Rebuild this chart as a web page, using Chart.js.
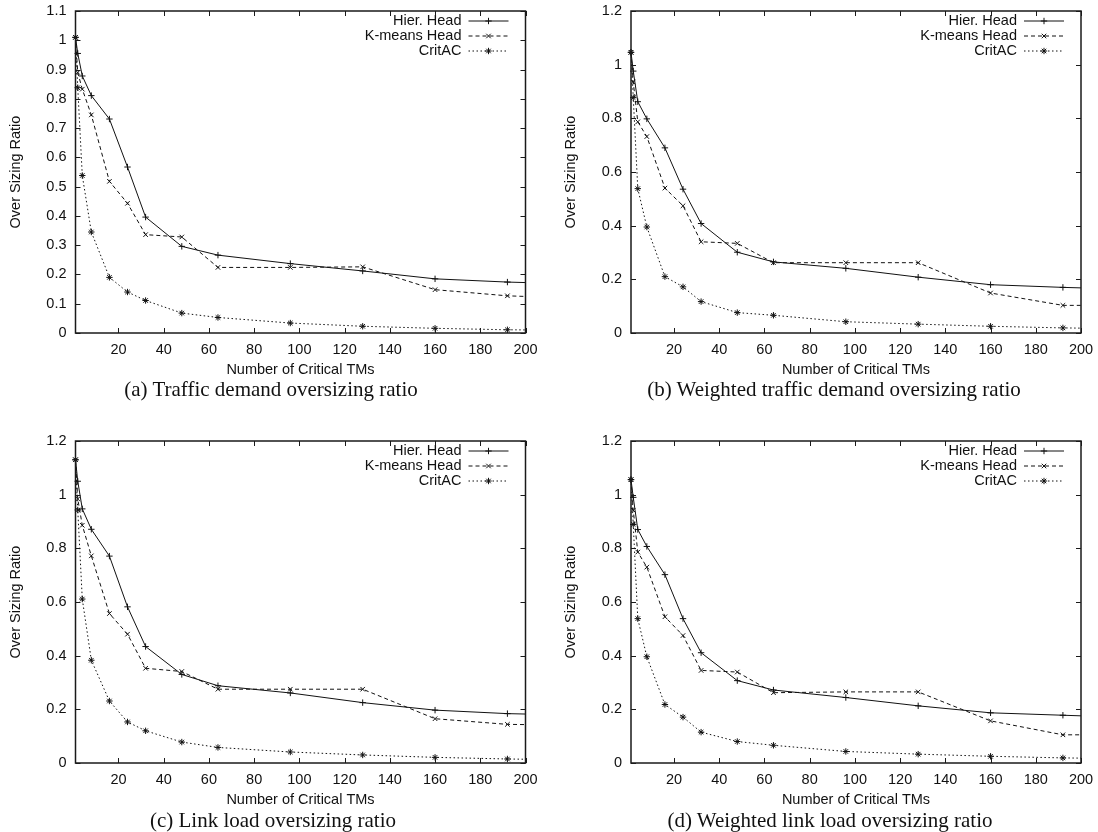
<!DOCTYPE html>
<html>
<head>
<meta charset="utf-8">
<title>Over sizing ratio vs number of critical TMs</title>
<script src="https://cdn.jsdelivr.net/npm/chart.js@4.4.1/dist/chart.umd.min.js"></script>
<style>
  body { margin: 0; background: #fff; width: 1098px; height: 832px; position: relative; overflow: hidden; }
  canvas.panel { position: absolute; }
  .caption {
    position: absolute;
    font-family: "Liberation Serif", "Times New Roman", serif;
    font-size: 21px;
    line-height: 24px;
    color: #111;
    white-space: nowrap;
    transform: translateX(-50%);
  }
</style>
</head>
<body>
<canvas id="chartA" class="panel" width="545" height="380" style="left:0;top:0"></canvas>
<canvas id="chartB" class="panel" width="543" height="380" style="left:555px;top:0"></canvas>
<canvas id="chartC" class="panel" width="545" height="380" style="left:0;top:430px"></canvas>
<canvas id="chartD" class="panel" width="543" height="380" style="left:555px;top:430px"></canvas>

<div class="caption" style="left:271px;top:377px">(a) Traffic demand oversizing ratio</div>
<div class="caption" style="left:834px;top:377px">(b) Weighted traffic demand oversizing ratio</div>
<div class="caption" style="left:273px;top:808px">(c) Link load oversizing ratio</div>
<div class="caption" style="left:830px;top:808px">(d) Weighted link load oversizing ratio</div>

<script>
// number of critical TMs (last run lies past the axis end)
const tmCounts = [1, 2, 4, 8, 16, 24, 32, 48, 64, 96, 128, 160, 192, 256];
const xTickValues = [20, 40, 60, 80, 100, 120, 140, 160, 180, 200];
const yTicksTraffic = [0, 0.1, 0.2, 0.3, 0.4, 0.5, 0.6, 0.7, 0.8, 0.9, 1, 1.1];
const yTicksLoad = [0, 0.2, 0.4, 0.6, 0.8, 1, 1.2];
const seriesNames = ["Hier. Head", "K-means Head", "CritAC"];

// (a) traffic demand
const trafficHier   = [1.01, 0.955, 0.878, 0.811, 0.731, 0.567, 0.396, 0.296, 0.266, 0.237, 0.212, 0.185, 0.174, 0.16];
const trafficKmeans = [1.01, 0.89, 0.833, 0.745, 0.518, 0.443, 0.336, 0.328, 0.224, 0.224, 0.226, 0.148, 0.127, 0.11];
const trafficCritac = [1.01, 0.838, 0.538, 0.345, 0.19, 0.14, 0.111, 0.068, 0.053, 0.034, 0.023, 0.016, 0.011, 0.007];

// (b) weighted traffic demand
const wTrafficHier   = [1.046, 0.976, 0.862, 0.798, 0.69, 0.536, 0.408, 0.301, 0.265, 0.241, 0.208, 0.18, 0.17, 0.155];
const wTrafficKmeans = [1.046, 0.935, 0.787, 0.732, 0.54, 0.474, 0.34, 0.334, 0.262, 0.262, 0.262, 0.149, 0.103, 0.103];
const wTrafficCritac = [1.046, 0.877, 0.538, 0.395, 0.21, 0.172, 0.117, 0.076, 0.066, 0.042, 0.033, 0.025, 0.019, 0.012];

// (c) link load
const linkHier   = [1.13, 1.05, 0.947, 0.871, 0.771, 0.582, 0.434, 0.33, 0.288, 0.261, 0.225, 0.197, 0.184, 0.172];
const linkKmeans = [1.13, 0.984, 0.886, 0.772, 0.557, 0.48, 0.353, 0.341, 0.275, 0.275, 0.275, 0.165, 0.144, 0.137];
const linkCritac = [1.13, 0.943, 0.611, 0.383, 0.231, 0.153, 0.12, 0.078, 0.058, 0.041, 0.03, 0.021, 0.015, 0.007];

// (d) weighted link load
const wLinkHier   = [1.056, 0.99, 0.87, 0.807, 0.702, 0.538, 0.411, 0.307, 0.272, 0.244, 0.213, 0.187, 0.178, 0.16];
const wLinkKmeans = [1.056, 0.942, 0.786, 0.73, 0.545, 0.475, 0.345, 0.339, 0.262, 0.265, 0.265, 0.157, 0.105, 0.105];
const wLinkCritac = [1.056, 0.889, 0.538, 0.396, 0.218, 0.171, 0.115, 0.08, 0.066, 0.043, 0.033, 0.025, 0.019, 0.012];

const INK = "#111111";
const SANS = "'Liberation Sans', Arial, Helvetica, sans-serif";
const FONT_SIZE = 14.5;
const MARK_R = 3.2;

// gnuplot-ish line types: solid +, dashed x, dotted *
const lineStyles = [
  { pointStyle: "cross", borderDash: [] },
  { pointStyle: "crossRot", borderDash: [4, 3] },
  { pointStyle: "star", borderDash: [1.5, 2.5] }
];

function makeDatasets(seriesList) {
  return seriesList.map((vals, i) => ({
    label: seriesNames[i],
    data: tmCounts.map((x, j) => ({ x: x, y: vals[j] })),
    borderColor: INK,
    borderWidth: 1,
    borderDash: lineStyles[i].borderDash,
    pointStyle: lineStyles[i].pointStyle,
    pointRadius: MARK_R,
    pointBorderWidth: 1,
    pointBorderColor: INK,
    pointBackgroundColor: INK,
    tension: 0,
    fill: false,
    clip: { left: 6, top: 6, right: 0, bottom: 6 }
  }));
}

function drawMarker(ctx, style, x, y, r) {
  ctx.beginPath();
  if (style === "cross" || style === "star") {
    ctx.moveTo(x - r, y); ctx.lineTo(x + r, y);
    ctx.moveTo(x, y - r); ctx.lineTo(x, y + r);
  }
  if (style === "crossRot" || style === "star") {
    const d = r * 0.7071;
    ctx.moveTo(x - d, y - d); ctx.lineTo(x + d, y + d);
    ctx.moveTo(x - d, y + d); ctx.lineTo(x + d, y - d);
  }
  ctx.stroke();
}

// key in the top right corner: right aligned text, then line sample
const keyBox = {
  id: "keyBox",
  afterDatasetsDraw(chart) {
    const { ctx, chartArea: a } = chart;
    ctx.save();
    ctx.font = FONT_SIZE + "px " + SANS;
    ctx.textAlign = "right";
    ctx.textBaseline = "middle";
    chart.data.datasets.forEach((ds, i) => {
      const y = a.top + 10 + i * 15;
      ctx.fillStyle = INK;
      ctx.fillText(ds.label, a.right - 64, y);
      ctx.strokeStyle = INK;
      ctx.lineWidth = 1;
      ctx.setLineDash(ds.borderDash);
      ctx.beginPath();
      ctx.moveTo(a.right - 57, y);
      ctx.lineTo(a.right - 17, y);
      ctx.stroke();
      ctx.setLineDash([]);
      drawMarker(ctx, ds.pointStyle, a.right - 37, y, MARK_R);
    });
    ctx.restore();
  }
};

// closed frame with inward, mirrored tick marks
const frameTicks = {
  id: "frameTicks",
  afterDraw(chart) {
    const { ctx, chartArea: a, scales } = chart;
    const len = 5;
    ctx.save();
    ctx.strokeStyle = "#1a1a1a";
    ctx.lineWidth = 1;
    ctx.beginPath();
    scales.x.ticks.forEach(t => {
      const px = Math.round(scales.x.getPixelForValue(t.value)) + 0.5;
      ctx.moveTo(px, a.bottom); ctx.lineTo(px, a.bottom - len);
      ctx.moveTo(px, a.top); ctx.lineTo(px, a.top + len);
    });
    scales.y.ticks.forEach(t => {
      const py = Math.round(scales.y.getPixelForValue(t.value)) + 0.5;
      ctx.moveTo(a.left, py); ctx.lineTo(a.left + len, py);
      ctx.moveTo(a.right, py); ctx.lineTo(a.right - len, py);
    });
    ctx.stroke();
    ctx.lineWidth = 1.5;
    ctx.strokeRect(a.left, a.top, a.right - a.left, a.bottom - a.top);
    ctx.restore();
  }
};

function renderPanel(canvasId, seriesList, yTickValues, yMax, yAxisWidth, rightPad) {
  const ctx = document.getElementById(canvasId).getContext("2d");
  const axisFont = { family: SANS, size: FONT_SIZE };
  return new Chart(ctx, {
    type: "line",
    data: { datasets: makeDatasets(seriesList) },
    options: {
      responsive: false,
      animation: false,
      devicePixelRatio: 1,
      layout: { padding: { top: 11, right: rightPad, left: 0, bottom: 0 } },
      plugins: { legend: { display: false }, tooltip: { enabled: false } },
      scales: {
        x: {
          type: "linear",
          min: 1,
          max: 200,
          afterBuildTicks: s => { s.ticks = xTickValues.map(v => ({ value: v })); },
          afterFit: s => { s.height = 47; s.paddingLeft = 0; s.paddingRight = 0; },
          grid: { display: false, drawTicks: false },
          border: { display: false },
          ticks: { autoSkip: false, maxRotation: 0, padding: 8, color: INK, font: axisFont },
          title: {
            display: true, text: "Number of Critical TMs", color: INK,
            font: axisFont, padding: { top: 0, bottom: 1 }
          }
        },
        y: {
          type: "linear",
          min: 0,
          max: yMax,
          afterBuildTicks: s => { s.ticks = yTickValues.map(v => ({ value: v })); },
          afterFit: s => { s.width = yAxisWidth; s.paddingTop = 0; s.paddingBottom = 0; },
          grid: { display: false, drawTicks: false },
          border: { display: false },
          ticks: {
            padding: 9, color: INK, font: axisFont,
            callback: v => String(+v.toFixed(2))
          },
          title: {
            display: true, text: "Over Sizing Ratio", color: INK,
            font: axisFont, padding: { top: 7, bottom: 0 }
          }
        }
      }
    },
    plugins: [keyBox, frameTicks]
  });
}

renderPanel("chartA", [trafficHier, trafficKmeans, trafficCritac], yTicksTraffic, 1.1, 75.5, 19.5);
renderPanel("chartB", [wTrafficHier, wTrafficKmeans, wTrafficCritac], yTicksLoad, 1.2, 76, 17);
renderPanel("chartC", [linkHier, linkKmeans, linkCritac], yTicksLoad, 1.2, 75.5, 19.5);
renderPanel("chartD", [wLinkHier, wLinkKmeans, wLinkCritac], yTicksLoad, 1.2, 76, 17);
</script>
</body>
</html>
